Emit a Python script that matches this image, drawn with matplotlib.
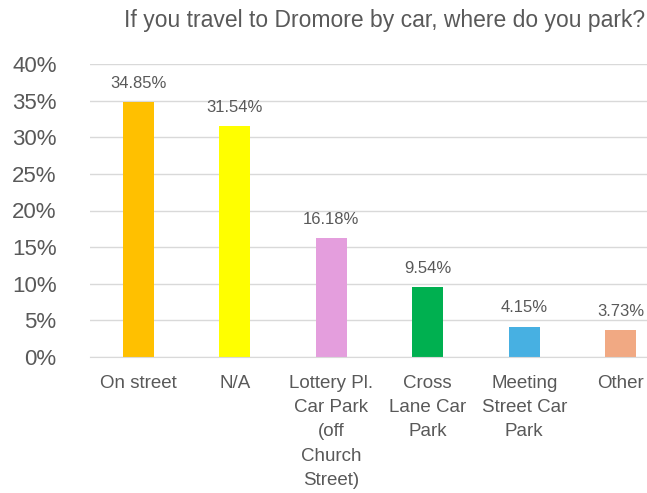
import matplotlib
matplotlib.use("Agg")
import matplotlib.pyplot as plt
from matplotlib.ticker import FuncFormatter

# data
categories = ["On street", "N/A", "Lottery Pl.\nCar Park\n(off\nChurch\nStreet)",
              "Cross\nLane Car\nPark", "Meeting\nStreet Car\nPark", "Other"]
shares = [34.85, 31.54, 16.18, 9.54, 4.15, 3.73]
bar_colors = ["#FFC000", "#FFFF00", "#E49EDD", "#00B050", "#47B0E2", "#F1A983"]
title = "If you travel to Dromore by car, where do you park?"

grey = "#595959"
plt.rcParams["font.family"] = ["Liberation Sans", "DejaVu Sans"]

fig = plt.figure(figsize=(6.47, 4.93), dpi=100)
# plot area runs past the right edge, as in the cropped original
ax = fig.add_axes([90 / 647, 1 - 357 / 493, 579 / 647, (357 - 64) / 493])

x = range(len(categories))
bars = ax.bar(x, shares, width=0.32, color=bar_colors, zorder=3)
for b, v in zip(bars, shares):
    ax.annotate(f"{v:.2f}%", (b.get_x() + b.get_width() / 2, v),
                xytext=(0, 8), textcoords="offset points",
                ha="center", va="bottom", fontsize=12, color=grey)

ax.set_xlim(-0.5, len(categories) - 0.5)
ax.set_ylim(0, 40)
ax.set_yticks(range(0, 41, 5))
ax.yaxis.set_major_formatter(FuncFormatter(lambda v, p: f"{v:.0f}%"))
ax.set_xticks(list(x))
ax.set_xticklabels(categories, fontsize=13.5, color=grey, linespacing=1.55)
ax.tick_params(axis="y", length=0, pad=24, labelsize=16, labelcolor=grey)
ax.tick_params(axis="x", length=0, pad=13)

ax.grid(axis="y", color="#D9D9D9", linewidth=1, zorder=0)
for s in ["top", "right", "left"]:
    ax.spines[s].set_visible(False)
ax.spines["bottom"].set_color("#D9D9D9")
ax.spines["bottom"].set_zorder(4)

fig.text(645 / 647, 1 - 20 / 493, title, ha="right", va="center",
         fontsize=16.5, color=grey)

fig.savefig("out.png", dpi=100)
